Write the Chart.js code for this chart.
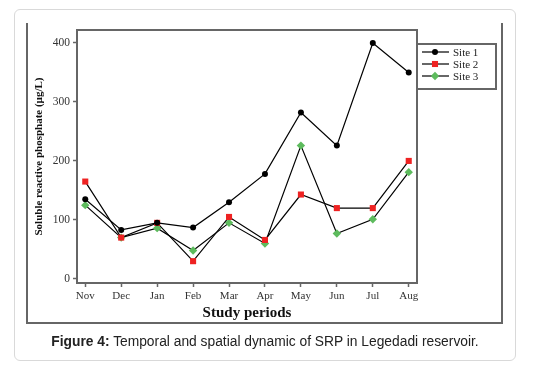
<!DOCTYPE html>
<html>
<head>
<meta charset="utf-8">
<script src="https://cdn.jsdelivr.net/npm/chart.js@4.4.1/dist/chart.umd.min.js"></script>
<style>
  body { margin: 0; background: #fff; width: 538px; height: 368px; position: relative; overflow: hidden; }
  .card { position: absolute; left: 14px; top: 9px; width: 500px; height: 350px; border: 1px solid #d9d9d9; border-radius: 6px; }
  .fig { position: absolute; left: 26px; top: 23px; width: 473px; height: 299px; border-left: 2px solid #666; border-right: 2px solid #666; border-bottom: 2px solid #666; }
  canvas { position: absolute; left: 0; top: 0; }
  .caption { position: absolute; left: 0; width: 530px; top: 334px; text-align: center; font-family: "Liberation Sans", Arial, sans-serif; font-size: 13.8px; color: #222; }
</style>
</head>
<body>
<div class="card"></div>
<div class="fig"></div>
<canvas id="chart" width="538" height="368"></canvas>
<div class="caption"><b>Figure 4:</b> Temporal and spatial dynamic of SRP in Legedadi reservoir.</div>

<script>
// months on the x axis
const months = ["Nov", "Dec", "Jan", "Feb", "Mar", "Apr", "May", "Jun", "Jul", "Aug"];

// SRP values (µg/L)
const site1 = [135, 83, 95, 87, 130, 178, 282, 226, 400, 350];
const site2 = [165, 70, 95, 30, 105, 66, 143, 120, 120, 200];
const site3 = [125, 70, 86, 48, 95, 60, 226, 77, 101, 181];

const yTicks = [0, 100, 200, 300, 400];

const serif = "'Liberation Serif', 'Times New Roman', serif";

function toPoints(arr) {
  return arr.map((v, i) => ({ x: i, y: v }));
}

// box around plot area
const frame = {
  id: "frame",
  afterDraw(chart) {
    const { ctx, chartArea: a } = chart;
    ctx.save();
    ctx.strokeStyle = "#666";
    ctx.lineWidth = 2;
    ctx.strokeRect(a.left, a.top, a.right - a.left, a.bottom - a.top);
    ctx.restore();
  }
};

// legend drawn in a box to the right of the plot
const boxLegend = {
  id: "boxLegend",
  afterDraw(chart) {
    const ctx = chart.ctx;
    const x = 417, y = 44, w = 79, h = 45;
    ctx.save();
    ctx.fillStyle = "#fff";
    ctx.fillRect(x, y, w, h);
    ctx.strokeStyle = "#666";
    ctx.lineWidth = 2;
    ctx.strokeRect(x, y, w, h);
    chart.data.datasets.forEach((ds, i) => {
      const cy = y + 8 + i * 12;
      ctx.strokeStyle = "#000";
      ctx.lineWidth = 1.2;
      ctx.beginPath();
      ctx.moveTo(x + 5, cy);
      ctx.lineTo(x + 32, cy);
      ctx.stroke();
      ctx.fillStyle = ds.pointBackgroundColor;
      Chart.helpers.drawPoint(ctx, { pointStyle: ds.pointStyle, radius: ds.pointRadius, borderWidth: 0 }, x + 18, cy);
      ctx.fillStyle = "#222";
      ctx.font = "11px " + serif;
      ctx.textBaseline = "middle";
      ctx.fillText(ds.label, x + 36, cy + 1);
    });
    ctx.restore();
  }
};

function makeSet(label, data, color, style, r) {
  return {
    label: label,
    data: toPoints(data),
    borderColor: "#000",
    borderWidth: 1.2,
    pointStyle: style,
    pointRadius: r,
    pointBackgroundColor: color,
    pointBorderColor: color,
    pointBorderWidth: 0,
    tension: 0
  };
}

const tickGrid = { display: true, drawOnChartArea: false, drawTicks: true, tickLength: 4, tickColor: "#666", tickWidth: 1.5 };

new Chart(document.getElementById("chart"), {
  type: "line",
  data: {
    datasets: [
      makeSet("Site 1", site1, "#000000", "circle", 3),
      makeSet("Site 2", site2, "#ee2222", "rect", 4.3),
      makeSet("Site 3", site3, "#5dbb5d", "rectRot", 4.2)
    ]
  },
  options: {
    responsive: false,
    animation: false,
    layout: { padding: { left: 33, top: 30, right: 121, bottom: 46 } },
    plugins: { legend: { display: false }, tooltip: { enabled: false } },
    scales: {
      x: {
        type: "linear",
        min: -0.23,
        max: 9.23,
        afterBuildTicks: (s) => { s.ticks = months.map((m, i) => ({ value: i })); },
        afterFit: (s) => { s.height = 39; },
        grid: tickGrid,
        border: { display: false },
        ticks: {
          callback: (v) => months[v],
          color: "#333",
          font: { family: serif, size: 11 },
          padding: 3,
          maxRotation: 0,
          autoSkip: false
        },
        title: {
          display: true,
          text: "Study periods",
          color: "#111",
          font: { family: serif, size: 15, weight: "bold" },
          padding: { top: 2, bottom: 0 }
        }
      },
      y: {
        min: -7,
        max: 422,
        afterBuildTicks: (s) => { s.ticks = yTicks.map((v) => ({ value: v })); },
        afterFit: (s) => { s.width = 44; },
        grid: tickGrid,
        border: { display: false },
        ticks: {
          color: "#333",
          font: { family: serif, size: 11.5 },
          padding: 3
        },
        title: {
          display: true,
          text: "Soluble reactive phosphate (µg/L)",
          color: "#111",
          font: { family: serif, size: 11, weight: "bold" },
          padding: { top: 0, bottom: 2 }
        }
      }
    }
  },
  plugins: [frame, boxLegend]
});
</script>
</body>
</html>
